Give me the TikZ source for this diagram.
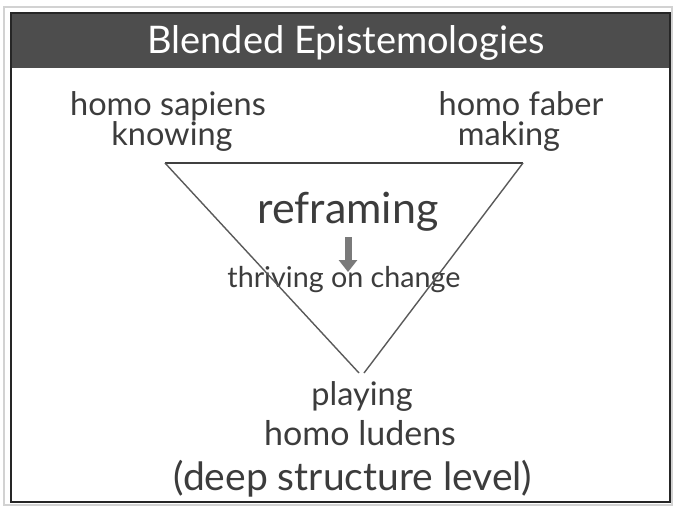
\documentclass[tikz,border=0pt]{standalone}
\usepackage{fontspec}
\setmainfont{Lato}
\usetikzlibrary{arrows.meta}
\definecolor{titlebg}{HTML}{4D4D4D}
\definecolor{txt}{HTML}{3C3C3C}
\definecolor{tri}{HTML}{5A5A5A}
\definecolor{arrowc}{HTML}{7A7A7A}
\tikzset{
  lbl/.style={anchor=base, text=txt, inner sep=0pt, font=\fontsize{32.5}{36}\selectfont},
  bigl/.style={lbl, font=\fontsize{43}{46}\selectfont},
  triline/.style={draw=tri, line width=1.4pt},
}
\begin{document}
\begin{tikzpicture}[x=1pt,y=-1pt]
\useasboundingbox (0,0) rectangle (673,506);
\fill[white] (0,0) rectangle (673,506);
% outer frames
\draw[gray!35, line width=1.5pt] (4,7) rectangle (672,505);
\fill[titlebg] (11,13) rectangle (670,68);
\draw[black!85, line width=2pt] (11,13) rectangle (670,502);
\node[anchor=base, text=white, inner sep=0pt, font=\fontsize{38}{42}\selectfont] (title) at (346,53) {Blended Epistemologies};
% labels
\node[lbl] (sap) at (168,115) {homo sapiens};
\node[lbl] (know) at (172,145) {knowing};
\node[lbl] (fab) at (521,115) {homo faber};
\node[lbl] (mak) at (509,145) {making};
\node[bigl] (refr) at (348,223) {reframing};
\node[lbl, font=\fontsize{28.7}{30}\selectfont] (thr) at (344,287) {thriving on change};
\node[lbl] (play) at (362,405) {playing};
\node[lbl, font=\fontsize{34}{36}\selectfont] (lud) at (360,445) {homo ludens};
\node[lbl, font=\fontsize{39}{42}\selectfont] (deep) at (353,490) {(deep structure level)};
% triangle
\coordinate (tl) at (165,163);
\coordinate (tr) at (523,163);
\coordinate (bl) at (359,373);
\coordinate (br) at (364,373);
\draw[draw=black!75, line width=2.6pt] (tl) -- (tr);
\draw[triline] (tl) -- (bl);
\draw[triline] (tr) -- (br);
% arrow
\coordinate (as) at (348,237);
\coordinate (ae) at (348,272);
\draw[arrowc, line width=7pt, -{Triangle[width=18pt,length=12pt]}] (as) -- (ae);
\end{tikzpicture}
\end{document}
